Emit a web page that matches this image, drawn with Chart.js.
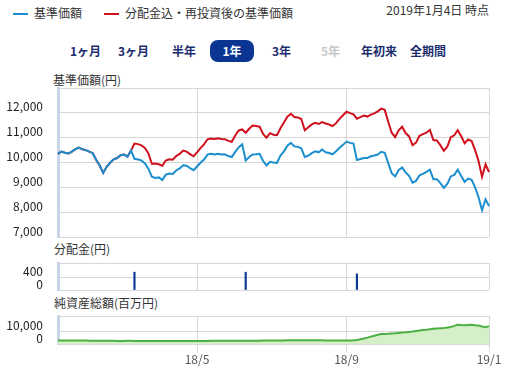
<!DOCTYPE html>
<html><head><meta charset="utf-8">
<script src="https://cdn.jsdelivr.net/npm/chart.js@4.4.1/dist/chart.umd.min.js"></script>
<style>
body{margin:0;background:#fff;width:507px;height:371px;overflow:hidden;position:relative;font-family:'Noto Sans CJK JP','Noto Sans',sans-serif;color:#333;}
.t{position:absolute;font-size:12px;line-height:16px;white-space:nowrap;}
.dash{position:absolute;height:2px;width:15px;}
.btn{position:absolute;top:42px;font-size:12px;line-height:18px;font-weight:bold;color:#1b2d6e;white-space:nowrap;}
.pill{position:absolute;left:210px;top:40px;width:44px;height:22px;border-radius:8px;background:#0a3592;color:#fff;font-size:12px;font-weight:bold;line-height:22px;text-align:center;}
canvas{position:absolute;left:0;}
</style></head>
<body>
<div class="dash" style="left:13px;top:13px;background:#1b8fce"></div>
<div class="t" style="left:34px;top:5px">基準価額</div>
<div class="dash" style="left:104px;top:13px;background:#d0101c"></div>
<div class="t" style="left:125px;top:5px">分配金込・再投資後の基準価額</div>
<div class="t" style="right:18px;top:2px">2019年1月4日 時点</div>

<div class="btn" style="left:70px">1ヶ月</div>
<div class="btn" style="left:118px">3ヶ月</div>
<div class="btn" style="left:172px">半年</div>
<div class="pill">1年</div>
<div class="btn" style="left:272px">3年</div>
<div class="btn" style="left:321px;color:#c8c8c8">5年</div>
<div class="btn" style="left:361px">年初来</div>
<div class="btn" style="left:410px">全期間</div>

<div class="t" style="left:53px;top:72px">基準価額(円)</div>
<div class="t" style="left:54px;top:241px">分配金(円)</div>
<div class="t" style="left:54px;top:295px">純資産総額(百万円)</div>

<canvas id="c1" width="507" height="167" style="top:78px"></canvas>
<canvas id="c2" width="507" height="45" style="top:253px"></canvas>
<canvas id="c3" width="507" height="65" style="top:306px"></canvas>

<script>
// ---- data ----
const categories = Array.from({length: 125}, (_, i) => String(i)); // sampled trading days 2018/1/4 - 2019/1/4
const xTickIndex = [40, 83, 124];
const xTickLabels = ['18/5', '18/9', '19/1'];

const navBase = [
10350,10440,10390,10360,10440,10540,10600,10530,10500,10440,
10375,10100,9880,9580,9830,9990,10125,10180,10290,10320,
10235,10480,10150,10125,10080,9960,9750,9430,9375,9400,
9290,9510,9555,9540,9680,9760,9890,9870,9770,9690,
9840,9990,10120,10320,10350,10320,10350,10320,10330,10260,
10220,10430,10620,10730,10080,10220,10320,10330,10350,10060,
9880,10030,10000,9980,10280,10450,10680,10790,10650,10630,
10570,10220,10280,10380,10450,10410,10520,10410,10380,10330,
10450,10590,10710,10840,10790,10760,10100,10140,10180,10180,
10250,10280,10320,10430,10390,9980,9570,9440,9690,9800,
9600,9460,9190,9260,9480,9540,9620,9710,9330,9330,
9170,8980,9140,9440,9500,9710,9460,9220,9350,9300,
9000,8600,8080,8520,8250];

const navReinvested = [
10350,10440,10390,10360,10440,10540,10600,10530,10500,10440,
10375,10100,9880,9580,9830,9990,10125,10180,10290,10320,
10235,10480,10760,10740,10690,10590,10370,9950,9960,9930,
9870,10080,10130,10110,10260,10345,10480,10440,10340,10250,
10410,10580,10730,10935,10970,10945,10975,10945,10940,10870,
10835,11090,11290,11330,11200,11360,11490,11470,11440,11150,
11000,11180,11120,11100,11380,11610,11845,11960,11835,11815,
11750,11300,11420,11535,11600,11550,11630,11570,11530,11465,
11585,11755,11900,12045,11990,11940,11765,11825,11890,11850,
11930,11975,12060,12170,12120,11640,11200,11020,11295,11440,
11185,11050,10695,10800,11075,11140,11200,11315,10905,10890,
10700,10470,10635,11020,11095,11300,11055,10775,10925,10865,
10500,10060,9420,9930,9610];

const distIndex = [22, 54, 86];
const distValues = [560, 560, 510];

const netAssets = [
3300,3300,3250,3250,3200,3200,3200,3150,3150,3100,
3100,3050,3000,3000,2950,2950,2950,2900,2900,2900,
2950,2950,2900,2900,2900,2850,2850,2850,2800,2850,
2850,2850,2800,2800,2800,2850,2850,2850,2850,2850,
2900,2900,2900,2900,2950,2950,2950,2950,3000,3000,
3000,3000,3050,3050,3050,3050,3100,3100,3100,3150,
3150,3150,3200,3200,3250,3300,3350,3400,3400,3400,
3450,3450,3400,3400,3400,3350,3350,3300,3300,3300,
3300,3300,3300,3300,3300,3400,3700,4200,4800,5500,
6300,7000,7700,8300,8400,8500,8700,8900,9200,9500,
9700,10000,10300,10700,11100,11400,11700,12100,12500,12700,
12900,13100,13400,13900,14700,15600,15400,15300,15500,15700,
15300,15000,14200,13600,14500];

const mainTicks = [7000, 8000, 9000, 10000, 11000, 12000, 13000];
const mainTickLabels = ['7,000', '8,000', '9,000', '10,000', '11,000', '12,000', ''];
const distTicks = [0, 400, 850];
const distTickLabels = ['0', '400', ''];
const assetTicks = [0, 10000, 22500];
const assetTickLabels = ['0', '10,000', ''];

// ---- style ----
const FONT = "'Noto Sans CJK JP','Noto Sans',sans-serif";
const GRID = '#d7d7d7';
const AXIS = '#c6d5e8';

function yAxis(ticks, labels, min, max) {
  return {
    type: 'linear', min: min, max: max,
    afterBuildTicks: a => { a.ticks = ticks.map(v => ({value: v})); },
    afterFit: a => { a.width = 58; },
    ticks: { padding: 0, labelOffset: -6, color: '#222', autoSkip: false,
      font: { family: FONT, size: 12 },
      callback: v => labels[ticks.indexOf(v)] },
    grid: { color: GRID, drawTicks: true, tickLength: 15, tickColor: 'rgba(0,0,0,0)' },
    border: { color: AXIS, width: 3 }
  };
}
function xAxis(showLabels) {
  return {
    type: 'category', offset: false,
    afterBuildTicks: a => { a.ticks = xTickIndex.map(v => ({value: v})); },
    ticks: { display: showLabels, autoSkip: false, maxRotation: 0, minRotation: 0, padding: 0, color: '#555',
      font: { family: FONT, size: 12 },
      callback: v => xTickLabels[xTickIndex.indexOf(v)] },
    grid: { color: GRID, offset: false, drawTicks: showLabels, tickLength: 8 },
    border: { display: false }
  };
}
function opts(pad, yScale, xLabels) {
  return {
    responsive: false, animation: false, devicePixelRatio: 1, events: [],
    plugins: { legend: { display: false }, tooltip: { enabled: false } },
    layout: { padding: pad },
    scales: { x: xAxis(xLabels), y: yScale }
  };
}

new Chart(document.getElementById('c1'), {
  type: 'line',
  data: { labels: categories, datasets: [
    { data: navBase, borderColor: '#1b8fce', borderWidth: 2, pointRadius: 0, tension: 0 },
    { data: navReinvested, borderColor: '#d0101c', borderWidth: 2, pointRadius: 0, tension: 0 }
  ]},
  options: opts({ top: 10, bottom: 8, left: 0, right: 18 }, yAxis(mainTicks, mainTickLabels, 7000, 13000), false)
});

const distData = categories.map(() => null);
distIndex.forEach((idx, k) => { distData[idx] = distValues[k]; });
new Chart(document.getElementById('c2'), {
  type: 'bar',
  data: { labels: categories, datasets: [
    { data: distData, backgroundColor: '#0b3a92', barThickness: 1.5 }
  ]},
  options: opts({ top: 10, bottom: 8, left: 0, right: 18 }, yAxis(distTicks, distTickLabels, 0, 850), false)
});

new Chart(document.getElementById('c3'), {
  type: 'line',
  data: { labels: categories, datasets: [
    { data: netAssets, borderColor: '#4cb043', backgroundColor: '#d5efc9', fill: 'origin', borderWidth: 2, pointRadius: 0, tension: 0 }
  ]},
  options: opts({ top: 10, bottom: 4, left: 0, right: 18 }, yAxis(assetTicks, assetTickLabels, 0, 22500), true)
});
</script>
</body></html>
